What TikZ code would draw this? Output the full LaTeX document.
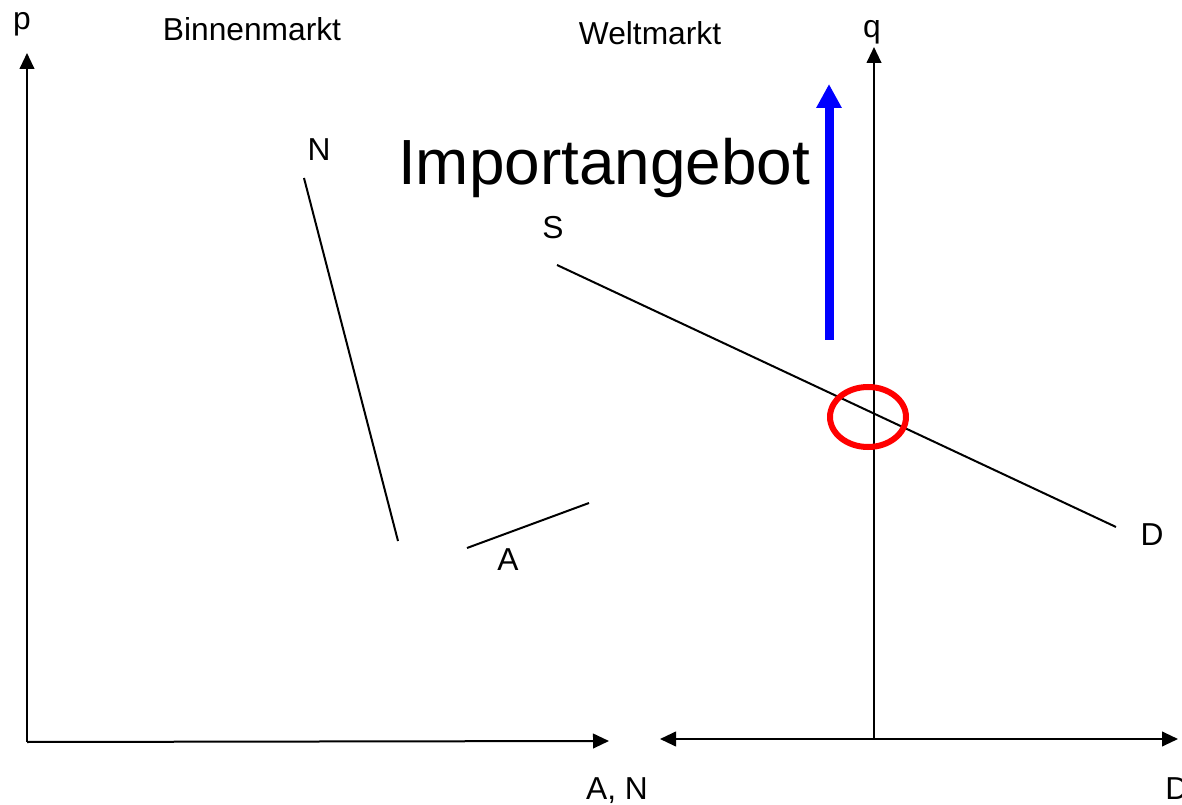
\documentclass[tikz,border=0pt]{standalone}
\usepackage{fontspec}
\setmainfont{Liberation Sans}
\usetikzlibrary{arrows.meta,shapes.geometric}
\begin{document}
\begin{tikzpicture}[x=0.75pt,y=-0.75pt,
  lbl/.style={font=\fontsize{23.8}{28}\selectfont,inner sep=0pt,anchor=base},
  curve/.style={line width=1.5pt,black},
  axis/.style={line width=1.5pt,black,-{Triangle[length=12pt,width=11pt]}},
  daxis/.style={line width=1.5pt,black,{Triangle[length=12pt,width=11pt]}-{Triangle[length=12pt,width=11pt]}}]
\useasboundingbox (0,0) rectangle (1182,805);
\clip (0,0) rectangle (1182,805);
% left axes
\coordinate (O1) at (27,742);
\coordinate (Ptop) at (27,53);
\coordinate (Xr) at (609,741);
\draw[axis] (O1) -- (Ptop);
\draw[axis] (O1) -- (Xr);
% right axes
\coordinate (O2) at (874,738);
\coordinate (Qtop) at (874,47);
\coordinate (Dl) at (660,739);
\coordinate (Dr) at (1178,739);
\draw[axis] (O2) -- (Qtop);
\draw[daxis] (Dl) -- (Dr);
% curves
\coordinate (N1) at (304,178);
\coordinate (N2) at (398,541);
\draw[curve] (N1) -- (N2);
\coordinate (A1) at (467,548);
\coordinate (A2) at (589,503);
\draw[curve] (A1) -- (A2);
\coordinate (S1) at (557,265);
\coordinate (D1) at (1116,527);
\draw[curve] (S1) -- (D1);
% blue arrow
\coordinate (B1) at (829,340);
\coordinate (B2) at (829,84);
\draw[blue,line width=6.75pt,-{Triangle[length=18pt,width=18pt]}] (B1) -- (B2);
% red ellipse
\node[draw=red,line width=4.5pt,ellipse,minimum width=57pt,minimum height=45pt,inner sep=0pt] (E) at (868,417) {};
% labels
\node[lbl] (lp) at (22,30) {p};
\node[lbl] (lbin) at (252,41) {Binnenmarkt};
\node[lbl] (lwelt) at (650,45) {Weltmarkt};
\node[lbl] (lq) at (872,38) {q};
\node[lbl] (lN) at (319,161) {N};
\node[lbl] (lS) at (553,239) {S};
\node[lbl] (lA) at (508,570) {A};
\node[lbl] (lD) at (1152,546) {D};
\node[lbl] (lAN) at (617,799) {A, N};
\node[lbl,anchor=base west] (lD2) at (1165,799) {D};
\node[inner sep=0pt,anchor=base,font=\fontsize{47.9}{56}\selectfont] (imp) at (604,185) {Importangebot};
\end{tikzpicture}
\end{document}
